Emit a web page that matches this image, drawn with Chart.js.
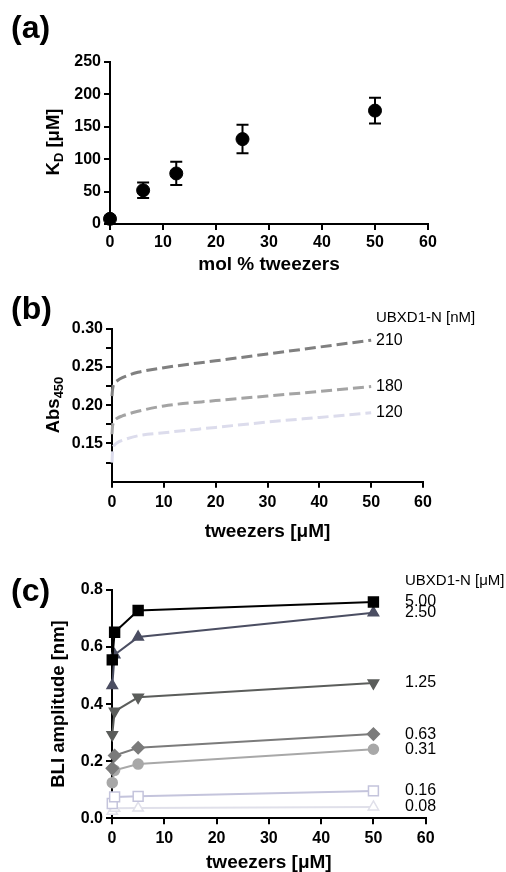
<!DOCTYPE html>
<html>
<head>
<meta charset="utf-8">
<script src="https://cdn.jsdelivr.net/npm/chart.js@4.4.0/dist/chart.umd.min.js"></script>
<style>
  body { margin: 0; background: #fff; width: 506px; height: 872px; position: relative; overflow: hidden; }
  .panel { position: absolute; left: 0; width: 506px; }
  .tag { position: absolute; left: 11px; font: bold 32px "Liberation Sans", Arial, sans-serif; z-index: 2; line-height: 32px; }
</style>
</head>
<body>
<div class="panel" style="top:0;height:280px"><canvas id="chartA"></canvas></div>
<div class="panel" style="top:280px;height:290px"><canvas id="chartB"></canvas></div>
<div class="panel" style="top:570px;height:302px"><canvas id="chartC"></canvas></div>
<div class="tag" style="top:11px">(a)</div>
<div class="tag" style="top:292px">(b)</div>
<div class="tag" style="top:574px">(c)</div>
<script>
// (a) K_D vs mol % tweezers
const molPct = [0, 6.25, 12.5, 25, 50];
const kd = [8, 52, 78, 131, 175];
const kdErr = [0, 12, 18, 22, 20];

// (b) Abs450 fitted curves vs tweezers [uM]
const nmLabels = ["210", "180", "120"];
const tweezB = [0, 0.1, 0.25, 0.5, 1, 2, 5, 10, 20, 30, 40, 50];
const abs210 = [0.212, 0.220, 0.226, 0.229, 0.232, 0.236, 0.243, 0.249, 0.258, 0.267, 0.276, 0.285];
const abs180 = [0.162, 0.172, 0.177, 0.180, 0.183, 0.186, 0.192, 0.199, 0.206, 0.212, 0.218, 0.2245];
const abs120 = [0.125, 0.138, 0.145, 0.148, 0.151, 0.154, 0.160, 0.164, 0.171, 0.178, 0.184, 0.190];

// (c) BLI amplitude vs tweezers [uM]
const umLabels = ["5.00", "2.50", "1.25", "0.63", "0.31", "0.16", "0.08"];
const tweezC = [0.05, 0.5, 5, 50];
const bli500 = [0.555, 0.652, 0.728, 0.758];
const bli250 = [0.465, 0.573, 0.635, 0.720];
const bli125 = [0.293, 0.375, 0.424, 0.474];
const bli063 = [0.175, 0.220, 0.247, 0.295];
const bli031 = [0.125, 0.168, 0.190, 0.242];
const bli016 = [0.052, 0.075, 0.077, 0.096];
const bli008 = [0.025, 0.035, 0.036, 0.040];

const xTicks = [0, 10, 20, 30, 40, 50, 60];

const FONT = '"Liberation Sans", Arial, Helvetica, sans-serif';
Chart.defaults.font.family = FONT;
Chart.defaults.color = "#000";
Chart.defaults.animation = false;

const pts = (xs, ys) => xs.map((x, i) => ({ x: x, y: ys[i] }));

// axis titles, side labels, error bars
const extras = {
  id: "extras",
  beforeDatasetsDraw(chart, args, o) {
    if (!o.err) return;
    const { ctx, scales: { x, y } } = chart;
    ctx.save();
    ctx.strokeStyle = "#000";
    ctx.lineWidth = 2;
    o.err.forEach((e, i) => {
      if (!e) return;
      const px = x.getPixelForValue(molPct[i]);
      const t = y.getPixelForValue(kd[i] + e), b = y.getPixelForValue(kd[i] - e);
      ctx.beginPath();
      ctx.moveTo(px, t); ctx.lineTo(px, b);
      ctx.moveTo(px - 6, t); ctx.lineTo(px + 6, t);
      ctx.moveTo(px - 6, b); ctx.lineTo(px + 6, b);
      ctx.stroke();
    });
    ctx.restore();
  },
  afterDraw(chart, args, o) {
    const { ctx, chartArea: a } = chart;
    ctx.save();
    ctx.fillStyle = "#000";
    ctx.textBaseline = "middle";
    ctx.textAlign = "center";
    ctx.font = "bold 19px " + FONT;
    ctx.fillText(o.xTitle, (a.left + a.right) / 2, o.xTitleY);

    // rotated y title with optional subscript parts
    ctx.save();
    ctx.translate(o.yTitleX, o.yTitleY);
    ctx.rotate(-Math.PI / 2);
    ctx.textAlign = "left";
    let w = 0;
    o.yTitle.forEach(p => {
      ctx.font = (p[1] ? "bold 13px " : "bold 18.5px ") + FONT;
      w += ctx.measureText(p[0]).width;
    });
    let cx = -w / 2;
    o.yTitle.forEach(p => {
      ctx.font = (p[1] ? "bold 13px " : "bold 18.5px ") + FONT;
      ctx.fillText(p[0], cx, p[1] ? 5 : 0);
      cx += ctx.measureText(p[0]).width;
    });
    ctx.restore();

    if (o.header) {
      ctx.textAlign = "left";
      ctx.font = "15px " + FONT;
      ctx.fillText(o.header, o.sideX, o.headerY);
      ctx.font = o.sideFont + " " + FONT;
      chart.data.datasets.forEach((ds, i) => {
        const meta = chart.getDatasetMeta(i);
        const last = meta.data[meta.data.length - 1];
        ctx.fillText(ds.label, o.sideX, last.y);
      });
    }
    ctx.restore();
  }
};

function xAxis(height, pad) {
  return {
    type: "linear", min: 0, max: 60,
    afterBuildTicks: s => { s.ticks = xTicks.map(v => ({ value: v })); },
    afterFit: s => { s.height = height; },
    border: { color: "#000", width: 2 },
    grid: { drawOnChartArea: false, drawTicks: true, tickLength: 6, color: "#000", lineWidth: 2 },
    ticks: { font: { size: 16, weight: "bold" }, padding: pad, maxRotation: 0, autoSkip: false }
  };
}
function yAxis(width, min, max, step, cb) {
  return {
    min: min, max: max,
    afterFit: s => { s.width = width; },
    border: { color: "#000", width: 2 },
    grid: { drawOnChartArea: false, drawTicks: true, tickLength: 6, color: "#000", lineWidth: 2 },
    ticks: { stepSize: step, font: { size: 16, weight: "bold" }, padding: 3, autoSkip: false, callback: cb }
  };
}

// panel (a)
new Chart(document.getElementById("chartA"), {
  type: "scatter",
  data: {
    datasets: [{
      data: pts(molPct, kd),
      backgroundColor: "#000", borderColor: "#000",
      pointRadius: 6.5, pointHoverRadius: 6.5, clip: false
    }]
  },
  options: {
    responsive: true, maintainAspectRatio: false,
    layout: { padding: { left: 0, right: 78, top: 62, bottom: 0 } },
    plugins: {
      legend: { display: false }, tooltip: { enabled: false },
      extras: { err: kdErr, xTitle: "mol % tweezers", xTitleY: 265,
        yTitle: [["K", false], ["D", true], [" [μM]", false]], yTitleX: 54, yTitleY: 142 }
    },
    scales: {
      x: xAxis(56, 3),
      y: yAxis(110, 0, 250, 50, v => v)
    }
  },
  plugins: [extras]
});

// panel (b)
const colB = ["#808080", "#a4a4a4", "#dcdcec"];
new Chart(document.getElementById("chartB"), {
  type: "line",
  data: {
    datasets: [abs210, abs180, abs120].map((ys, i) => ({
      label: nmLabels[i],
      data: pts(tweezB, ys),
      borderColor: colB[i], borderWidth: 3, borderDash: [11, 5],
      pointRadius: 0, cubicInterpolationMode: "monotone", clip: false, fill: false
    }))
  },
  options: {
    responsive: true, maintainAspectRatio: false,
    layout: { padding: { left: 0, right: 83, top: 48.7, bottom: 0 } },
    plugins: {
      legend: { display: false }, tooltip: { enabled: false },
      extras: { xTitle: "tweezers [μM]", xTitleY: 252,
        yTitle: [["Abs", false], ["450", true]], yTitleX: 54, yTitleY: 125,
        header: "UBXD1-N [nM]", headerY: 38, sideX: 376, sideFont: "16px" }
    },
    scales: {
      x: xAxis(88.3, 5),
      y: yAxis(112, 0.1, 0.3, 0.025, v => {
        const k = Math.round(v * 40);
        if (k === 4) return null;
        return k % 2 === 0 ? v.toFixed(2) : "";
      })
    }
  },
  plugins: [extras]
});

// panel (c)
const colC = ["#000000", "#4b4e62", "#5b5d5b", "#7b7b7b", "#a8a8a8", "#c4c4dc", "#e0e0ea"];
const shapeC = ["rect", "triangle", "triangle", "rectRot", "circle", "rect", "triangle"];
const rotC = [0, 0, 180, 0, 0, 0, 0];
const sizeC = [7, 6, 6, 6, 5, 7, 6];
const openC = [false, false, false, false, false, true, true];
new Chart(document.getElementById("chartC"), {
  type: "line",
  data: {
    datasets: [bli500, bli250, bli125, bli063, bli031, bli016, bli008].map((ys, i) => ({
      label: umLabels[i],
      data: pts(tweezC, ys),
      borderColor: colC[i], borderWidth: 2,
      pointStyle: shapeC[i], pointRotation: rotC[i], pointRadius: sizeC[i], pointHoverRadius: sizeC[i],
      pointBackgroundColor: openC[i] ? "#fff" : colC[i], pointBorderColor: colC[i], pointBorderWidth: 1.5,
      tension: 0, clip: false, fill: false
    }))
  },
  options: {
    responsive: true, maintainAspectRatio: false,
    layout: { padding: { left: 0, right: 80.3, top: 20, bottom: 0 } },
    plugins: {
      legend: { display: false }, tooltip: { enabled: false },
      extras: { xTitle: "tweezers [μM]", xTitleY: 293,
        yTitle: [["BLI amplitude [nm]", false]], yTitleX: 59, yTitleY: 134,
        header: "UBXD1-N [μM]", headerY: 11, sideX: 405, sideFont: "16px" }
    },
    scales: {
      x: xAxis(53.7, 5),
      y: yAxis(112, 0, 0.8, 0.2, v => v.toFixed(1))
    }
  },
  plugins: [extras]
});
</script>
</body>
</html>
